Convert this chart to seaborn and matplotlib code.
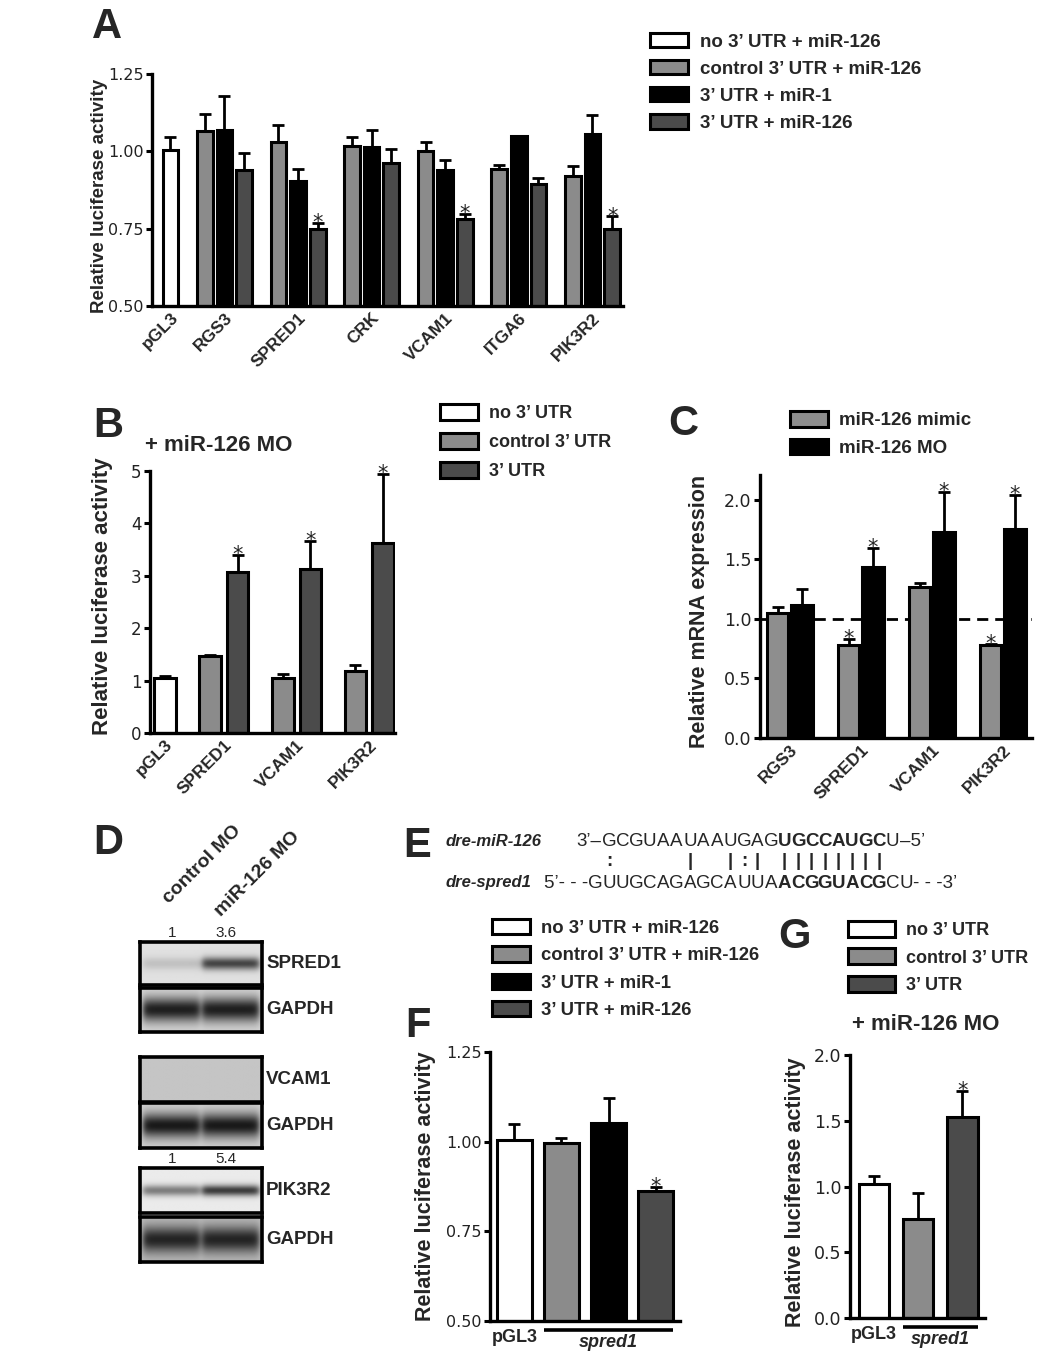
import numpy as np
import pandas as pd
import matplotlib
matplotlib.use("Agg")
import matplotlib.pyplot as plt
from matplotlib.patches import Patch
import seaborn as sns

# ---- values ----
# A: luciferase reporter, candidate 3' UTRs
a_genes = ["pGL3", "RGS3", "SPRED1", "CRK", "VCAM1", "ITGA6", "PIK3R2"]
a_cond = ["no 3\u2019 UTR + miR-126", "control 3\u2019 UTR + miR-126",
          "3\u2019 UTR + miR-1", "3\u2019 UTR + miR-126"]
a_pgl3 = 1.003
a_pgl3_err = 0.043
a_ctrl = [1.066, 1.030, 1.016, 1.002, 0.942, 0.919]
a_ctrl_err = [0.054, 0.056, 0.031, 0.028, 0.015, 0.033]
a_mir1 = [1.070, 0.905, 1.014, 0.939, 1.048, 1.056]
a_mir1_err = [0.110, 0.038, 0.056, 0.034, 0.0, 0.060]
a_mir126 = [0.940, 0.750, 0.961, 0.782, 0.895, 0.748]
a_mir126_err = [0.056, 0.018, 0.045, 0.015, 0.018, 0.042]
a_mir126_sig = [False, True, False, True, False, True]

# B: + miR-126 MO
b_genes = ["pGL3", "SPRED1", "VCAM1", "PIK3R2"]
b_cond = ["no 3\u2019 UTR", "control 3\u2019 UTR", "3\u2019 UTR"]
b_pgl3 = 1.05
b_pgl3_err = 0.03
b_ctrl = [1.47, 1.05, 1.19]
b_ctrl_err = [0.02, 0.08, 0.11]
b_utr = [3.08, 3.13, 3.62]
b_utr_err = [0.32, 0.54, 1.32]

# C: qPCR
c_genes = ["RGS3", "SPRED1", "VCAM1", "PIK3R2"]
c_cond = ["miR-126 mimic", "miR-126 MO"]
c_mimic = [1.05, 0.78, 1.27, 0.78]
c_mimic_err = [0.05, 0.05, 0.03, 0.01]
c_mimic_sig = [False, True, False, True]
c_mo = [1.12, 1.44, 1.73, 1.76]
c_mo_err = [0.13, 0.16, 0.34, 0.28]
c_mo_sig = [False, True, True, True]

# D: western blots (relative band signal per lane)
d_names = ["SPRED1", "GAPDH", "VCAM1", "GAPDH", "PIK3R2", "GAPDH"]
d_signal = [[0.15, 0.75], [0.92, 0.92], [0.0, 0.0], [0.95, 0.95], [0.5, 0.8], [0.88, 0.88]]
d_background = [0.88, 0.84, 0.77, 0.82, 0.92, 0.74]
d_quant = {0: ["1", "3.6"], 4: ["1", "5.4"]}
d_lanes = ["control MO", "miR-126 MO"]

# E: seed pairing
e_mir = "GCGUAAUAAUGAGUGCCAUGCU"
e_mir_seed = range(13, 21)
e_target = "GUUGCAGAGCAUUAACGGUACGCU"
e_target_seed = range(14, 22)
e_pairing = ":     |  |:| |||||||| "

# F: spred1 3' UTR
f_values = [1.004, 0.997, 1.052, 0.862]
f_err = [0.045, 0.013, 0.071, 0.012]
f_sig = [False, False, False, True]

# G: spred1 3' UTR + miR-126 MO
g_values = [1.02, 0.752, 1.527]
g_err = [0.06, 0.198, 0.203]
g_sig = [False, False, True]

WHITE, GRAY, BLACK, DARK = "#ffffff", "#8b8b8b", "#000000", "#4b4b4b"

sns.set_style("ticks")
plt.rcParams["font.family"] = ["Liberation Sans", "DejaVu Sans"]

W, H = 1050, 1359
fig = plt.figure(figsize=(W / 100, H / 100), dpi=100)


def box(l, t, r, b):
    return [l / W, 1 - b / H, (r - l) / W, (b - t) / H]


def at(x, y):
    return (x / W, 1 - y / H)


def style_axis(ax, lim, ticks, labels, size=11.5):
    ax.set_ylim(*lim)
    ax.set_yticks(ticks, labels)
    sns.despine(ax=ax)
    for s in ["left", "bottom"]:
        ax.spines[s].set_linewidth(2.4)
        ax.spines[s].set_color("black")
    ax.tick_params(axis="y", length=4.5, width=2.2, pad=1.5, labelsize=size,
                   labelcolor="#222222", color="black")
    ax.tick_params(axis="x", length=0, pad=3)
    for t in ax.get_yticklabels():
        t.set_fontfamily("DejaVu Sans")
    ax.set_xlabel("")
    ax.set_ylabel("")
    ax.set_facecolor("none")


def add_errors(ax, df, order):
    for p in list(ax.patches):
        xc = p.get_x() + p.get_width() / 2
        gi = int(round(xc))
        hit = df[(df["gene"] == order[gi]) & np.isclose(df["value"], p.get_height())]
        if hit.empty:
            continue
        r = hit.iloc[0]
        ax.errorbar([xc], [r["value"]], yerr=[[0], [r["err"]]], fmt="none", ecolor="black",
                    elinewidth=2, capsize=4, capthick=2, zorder=0.6)
        if r["sig"]:
            ax.annotate("*", xy=(xc, r["value"] + r["err"]), xytext=(0, -4.5),
                        textcoords="offset points", ha="center", va="baseline",
                        fontsize=15, fontfamily="DejaVu Sans")


def centers(ax, order):
    pos = {}
    for p in ax.patches:
        xc = p.get_x() + p.get_width() / 2
        pos.setdefault(order[int(round(xc))], []).append(xc)
    return [np.mean(pos[g]) for g in order]


def legend(colors, labels, x, y, size, hl, hh, ls):
    hs = [Patch(facecolor=c, edgecolor="black", linewidth=2.2) for c in colors]
    fig.legend(hs, labels, loc="upper left", bbox_to_anchor=at(x, y), frameon=False,
               prop={"weight": "bold", "size": size}, handlelength=hl, handleheight=hh,
               handletextpad=0.6, labelspacing=ls, borderpad=0, borderaxespad=0)


def letter(s, x, y):
    fig.text(*at(x, y), s, fontsize=30, fontweight="bold", ha="left", va="top")


def ylab(s, x, y, size):
    fig.text(*at(x, y), s, rotation=90, ha="center", va="center", fontsize=size,
             fontweight="bold")


bar_kw = dict(edgecolor="black", linewidth=2.2, errorbar=None, legend=False)

# ---------------- A ----------------
rows = [("pGL3", a_cond[0], a_pgl3, a_pgl3_err, False)]
for i, g in enumerate(a_genes[1:]):
    rows.append((g, a_cond[1], a_ctrl[i], a_ctrl_err[i], False))
    rows.append((g, a_cond[2], a_mir1[i], a_mir1_err[i], False))
    rows.append((g, a_cond[3], a_mir126[i], a_mir126_err[i], a_mir126_sig[i]))
a_df = pd.DataFrame(rows, columns=["gene", "condition", "value", "err", "sig"])

axA = fig.add_axes(box(152, 74, 623, 306))
sns.barplot(data=a_df[a_df.gene != "pGL3"], x="gene", y="value", hue="condition",
            order=a_genes, hue_order=a_cond[1:], palette=[GRAY, BLACK, DARK],
            width=0.8, gap=0.2, dodge=True, ax=axA, **bar_kw)
sns.barplot(data=a_df[a_df.gene == "pGL3"], x="gene", y="value", hue="condition",
            order=a_genes, hue_order=[a_cond[1], a_cond[2], a_cond[0]],
            palette=[GRAY, BLACK, WHITE], width=0.8, gap=0.2, dodge=True, ax=axA, **bar_kw)
style_axis(axA, (0.5, 1.25), [0.5, 0.75, 1.0, 1.25], ["0.50", "0.75", "1.00", "1.25"])
axA.set_xlim(0.016, 6.415)
add_errors(axA, a_df, a_genes)
axA.set_xticks(centers(axA, a_genes), a_genes, rotation=45, ha="right",
               rotation_mode="anchor", fontsize=12.5, fontweight="bold")
letter("A", 92, 7)
ylab("Relative luciferase activity", 100, 196, 13.5)
legend([WHITE, GRAY, BLACK, DARK], a_cond, 650, 33, 13.5, 2.05, 0.8, 0.5)

# ---------------- B ----------------
rows = [("pGL3", b_cond[0], b_pgl3, b_pgl3_err, False)]
for i, g in enumerate(b_genes[1:]):
    rows.append((g, b_cond[1], b_ctrl[i], b_ctrl_err[i], False))
    rows.append((g, b_cond[2], b_utr[i], b_utr_err[i], True))
b_df = pd.DataFrame(rows, columns=["gene", "condition", "value", "err", "sig"])

axB = fig.add_axes(box(150, 471, 395, 733))
sns.barplot(data=b_df[b_df.gene != "pGL3"], x="gene", y="value", hue="condition",
            order=b_genes, hue_order=b_cond[1:], palette=[GRAY, DARK],
            width=0.76, gap=0.22, dodge=True, ax=axB, **bar_kw)
sns.barplot(data=b_df[b_df.gene == "pGL3"], x="gene", y="value", hue="condition",
            order=b_genes, hue_order=[b_cond[1], b_cond[0]], palette=[GRAY, WHITE],
            width=0.76, gap=0.22, dodge=True, ax=axB, **bar_kw)
style_axis(axB, (0, 5), range(6), [str(v) for v in range(6)], 12)
axB.set_xlim(-0.016, 3.354)
add_errors(axB, b_df, b_genes)
axB.set_xticks(centers(axB, b_genes), b_genes, rotation=45, ha="right",
               rotation_mode="anchor", fontsize=12.5, fontweight="bold")
letter("B", 93, 406)
fig.text(*at(145, 445), "+ miR-126 MO", fontsize=16, fontweight="bold", ha="left", va="center")
ylab("Relative luciferase activity", 103, 596, 16)
legend([WHITE, GRAY, DARK], b_cond, 440, 404, 13, 2.1, 0.95, 0.62)

# ---------------- C ----------------
rows = []
for i, g in enumerate(c_genes):
    rows.append((g, c_cond[0], c_mimic[i], c_mimic_err[i], c_mimic_sig[i]))
    rows.append((g, c_cond[1], c_mo[i], c_mo_err[i], c_mo_sig[i]))
c_df = pd.DataFrame(rows, columns=["gene", "condition", "value", "err", "sig"])

axC = fig.add_axes(box(760, 475, 1032, 738))
axC.axhline(1.0, color="black", lw=2, ls=(0, (4, 2.5)), zorder=0.5)
sns.barplot(data=c_df, x="gene", y="value", hue="condition", order=c_genes,
            hue_order=c_cond, palette=["#8e8e8e", BLACK], width=0.68, gap=0.12,
            ax=axC, **bar_kw)
style_axis(axC, (0, 2.21), [0, 0.5, 1.0, 1.5, 2.0], ["0.0", "0.5", "1.0", "1.5", "2.0"], 12.5)
axC.set_xlim(-0.42, 3.41)
add_errors(axC, c_df, c_genes)
axC.set_xticks(centers(axC, c_genes), c_genes, rotation=45, ha="right",
               rotation_mode="anchor", fontsize=12.5, fontweight="bold")
letter("C", 668, 404)
ylab("Relative mRNA expression", 700, 611, 15.5)
legend(["#8e8e8e", BLACK], c_cond, 790, 411, 13.5, 2.0, 0.9, 0.5)

# ---------------- D ----------------
letter("D", 93, 823)
fig.text(*at(172, 907), d_lanes[0], rotation=45, rotation_mode="anchor", ha="left",
         va="bottom", fontsize=14, fontweight="bold")
fig.text(*at(224, 920), d_lanes[1], rotation=45, rotation_mode="anchor", ha="left",
         va="bottom", fontsize=14, fontweight="bold")
blot_boxes = [(942, 985), (988, 1032), (1057, 1102), (1103, 1148), (1168, 1213), (1217, 1262)]
band_h = [0.3, 0.55, 0.3, 0.55, 0.25, 0.6]
yy = np.linspace(-1, 1, 40)[:, None]
xx = np.linspace(0, 1, 120)[None, :]


def lane(a, b):
    return 1 / (1 + np.exp(-(xx - a) / 0.015)) / (1 + np.exp((xx - b) / 0.015))


for k, name in enumerate(d_names):
    top, bot = blot_boxes[k]
    ax = fig.add_axes(box(140, top, 262, bot))
    bg = d_background[k]
    img = np.full((40, 120), bg)
    prof = np.exp(-(yy / band_h[k]) ** 2)
    for j, (a, b) in enumerate([(0.02, 0.49), (0.51, 0.98)]):
        img = img - d_signal[k][j] * (bg - 0.06) * prof * lane(a, b)
    ax.imshow(img, cmap="gray", vmin=0, vmax=1, aspect="auto", interpolation="bilinear")
    ax.set_xticks([])
    ax.set_yticks([])
    for s in ax.spines.values():
        s.set_linewidth(2.6)
        s.set_color("black")
    fig.text(*at(266, (top + bot) / 2), name, fontsize=13.5, fontweight="bold",
             ha="left", va="center")
    if k in d_quant:
        fig.text(*at(172, top - 9), d_quant[k][0], fontsize=11, ha="center", va="center")
        fig.text(*at(226, top - 9), d_quant[k][1], fontsize=11, ha="center", va="center")

# ---------------- E ----------------
letter("E", 403, 826)
e_x0, e_pitch = 609, 13.5
y_top, y_mid, y_bot = 841, 862, 883
fig.text(*at(446, y_top), "dre-miR-126", fontsize=12, fontweight="bold",
         fontstyle="italic", ha="left", va="center")
fig.text(*at(446, y_bot), "dre-spred1", fontsize=12, fontweight="bold",
         fontstyle="italic", ha="left", va="center")
for i, ch in enumerate(e_mir):
    fig.text(*at(e_x0 + i * e_pitch, y_top), ch, fontsize=13.5, ha="center", va="center",
             fontweight="bold" if i in e_mir_seed else "normal")
fig.text(*at(e_x0 - 0.55 * e_pitch, y_top), "3\u2019\u2013", fontsize=13.5, ha="right", va="center")
fig.text(*at(e_x0 + 21.55 * e_pitch, y_top), "\u20135\u2019", fontsize=13.5, ha="left", va="center")
for j, ch in enumerate(e_target):
    fig.text(*at(e_x0 + (j - 1) * e_pitch, y_bot), ch, fontsize=13.5, ha="center", va="center",
             fontweight="bold" if j in e_target_seed else "normal")
fig.text(*at(e_x0 - 1.55 * e_pitch, y_bot), "5\u2019- - -", fontsize=13.5,
         ha="right", va="center")
fig.text(*at(e_x0 + 22.55 * e_pitch, y_bot), "- - -3\u2019", fontsize=13.5,
         ha="left", va="center")
for i, ch in enumerate(e_pairing):
    if ch != " ":
        fig.text(*at(e_x0 + i * e_pitch, y_mid), ch, fontsize=13.5, fontweight="bold",
                 ha="center", va="center")


# ---------------- F / G ----------------
def spred_axis(ax, px_h):
    bars = sorted(ax.patches, key=lambda p: p.get_x())
    tr = ax.get_xaxis_transform()
    x_first = bars[0].get_x() + bars[0].get_width() / 2
    ax.annotate("pGL3", xy=(x_first, 0), xycoords=tr, xytext=(0, -6),
                textcoords="offset points", ha="center", va="top", fontsize=13,
                fontweight="bold")
    x0 = bars[1].get_x()
    x1 = bars[-1].get_x() + bars[-1].get_width()
    d = 9 / px_h
    ax.plot([x0, x1], [-d, -d], transform=tr, clip_on=False, color="black", lw=2.6,
            solid_capstyle="butt")
    ax.annotate("spred1", xy=((x0 + x1) / 2, -d), xycoords=tr, xytext=(0, -3),
                textcoords="offset points", ha="center", va="top", fontsize=13,
                fontweight="bold", fontstyle="italic")
    ax.set_xticks([])


f_df = pd.DataFrame({"gene": a_cond, "value": f_values, "err": f_err, "sig": f_sig})
axF = fig.add_axes(box(490, 1052, 680, 1321))
sns.barplot(data=f_df, x="gene", y="value", hue="gene", order=a_cond, hue_order=a_cond,
            palette=[WHITE, GRAY, BLACK, DARK], width=0.745, ax=axF, **bar_kw)
style_axis(axF, (0.5, 1.25), [0.5, 0.75, 1.0, 1.25], ["0.50", "0.75", "1.00", "1.25"])
axF.set_xlim(-0.52, 3.52)
add_errors(axF, f_df, a_cond)
spred_axis(axF, 269)
letter("F", 405, 1006)
ylab("Relative luciferase activity", 425, 1186, 15.5)
legend([WHITE, GRAY, BLACK, DARK], a_cond, 492, 919, 13.3, 2.05, 0.9, 0.5)

g_df = pd.DataFrame({"gene": b_cond, "value": g_values, "err": g_err, "sig": g_sig})
axG = fig.add_axes(box(850, 1055, 985, 1318))
sns.barplot(data=g_df, x="gene", y="value", hue="gene", order=b_cond, hue_order=b_cond,
            palette=[WHITE, GRAY, DARK], width=0.7, ax=axG, **bar_kw)
style_axis(axG, (0, 2.0), [0, 0.5, 1.0, 1.5, 2.0], ["0.0", "0.5", "1.0", "1.5", "2.0"], 12.5)
axG.set_xlim(-0.545, 2.52)
add_errors(axG, g_df, b_cond)
spred_axis(axG, 263)
letter("G", 778, 917)
fig.text(*at(852, 1025), "+ miR-126 MO", fontsize=16, fontweight="bold", ha="left", va="center")
ylab("Relative luciferase activity", 795, 1192, 15.5)
legend([WHITE, GRAY, DARK], b_cond, 848, 921, 13, 2.6, 1.0, 0.5)

fig.savefig("out.png", dpi=100)
